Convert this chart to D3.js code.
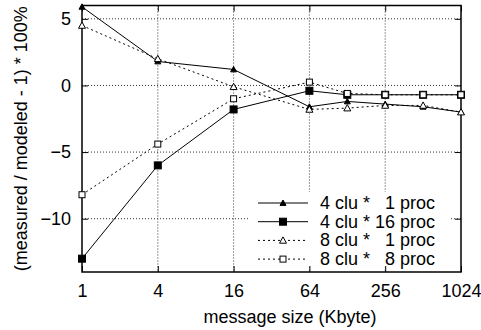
<!DOCTYPE html>
<html lang="en">
<head>
  <meta charset="UTF-8">
  <title>measured / modeled</title>
  <script src="https://d3js.org/d3.v7.min.js"></script>
  <style>
    body { margin: 0; background: #fff; }
    svg text { font-family: "Liberation Sans", Arial, Helvetica, sans-serif; }
  </style>
</head>
<body>
  <svg width="481" height="330" id="chart"></svg>
  <script>
    // message size in Kbyte (x values)
    var sizes = [1, 4, 16, 64, 128, 256, 512, 1024]
    var xTicks = [1, 4, 16, 64, 256, 1024]
    var yTicks = [-10, -5, 0, 5]

    // (measured / modeled - 1) * 100%
    var clu4proc1 = [5.9, 1.8, 1.2, -1.6, -1.2, -1.4, -1.6, -2.0]
    var clu4proc16 = [-13.0, -6.0, -1.8, -0.4, -0.7, -0.7, -0.7, -0.7]
    var clu8proc1 = [4.5, 2.0, -0.1, -1.8, -1.7, -1.5, -1.5, -2.0]
    var clu8proc8 = [-8.2, -4.4, -1.0, 0.25, -0.6, -0.7, -0.7, -0.7]

    var seriesNames = ["4 clu *   1 proc", "4 clu * 16 proc", "8 clu *   1 proc", "8 clu *   8 proc"]

    var series = [
      { name: seriesNames[0], values: clu4proc1, dash: null, marker: "triangle", fill: "#000" },
      { name: seriesNames[1], values: clu4proc16, dash: null, marker: "square", fill: "#000" },
      { name: seriesNames[2], values: clu8proc1, dash: "2,3", marker: "triangle", fill: "#fff" },
      { name: seriesNames[3], values: clu8proc8, dash: "2,3", marker: "square", fill: "#fff" }
    ]

    var svg = d3.select("#chart")
    var plotLeft = 82, plotRight = 461, plotTop = 5.5, plotBottom = 272
    var fontSize = "18px"

    var x = d3.scaleLog().base(2).domain([1, 1024]).range([plotLeft, plotRight])
    var y = d3.scaleLinear().domain([-14, 6]).range([plotBottom, plotTop])

    // grid
    var grid = svg.append("g")
    grid.selectAll("line.h")
      .data(yTicks)
      .enter()
      .append("line")
      .attr("x1", plotLeft).attr("x2", plotRight)
      .attr("y1", function (d) { return y(d) }).attr("y2", function (d) { return y(d) })
      .style("stroke", "#333").style("stroke-width", 1).style("stroke-dasharray", "1,2")

    grid.selectAll("line.v")
      .data([4, 16, 64, 256])
      .enter()
      .append("line")
      .attr("x1", function (d) { return x(d) }).attr("x2", function (d) { return x(d) })
      .attr("y1", plotTop).attr("y2", plotBottom)
      .style("stroke", "#333").style("stroke-width", 1).style("stroke-dasharray", "1,2")

    // key background hides the grid
    var keyX = 248, keyY = 192
    svg.append("rect")
      .attr("x", keyX).attr("y", keyY)
      .attr("width", 201).attr("height", 75)
      .style("fill", "#fff")

    // axes with inward ticks, mirrored on top and right
    svg.append("g")
      .attr("transform", "translate(0," + plotBottom + ")")
      .call(d3.axisBottom(x).tickValues(xTicks).tickFormat(d3.format("d")).tickSizeInner(-6).tickSizeOuter(0).tickPadding(12))
    svg.append("g")
      .attr("transform", "translate(0," + plotTop + ")")
      .call(d3.axisTop(x).tickValues(xTicks).tickFormat("").tickSizeInner(-6).tickSizeOuter(0))
    svg.append("g")
      .attr("transform", "translate(" + plotLeft + ",0)")
      .call(d3.axisLeft(y).tickValues(yTicks).tickFormat(d3.format("d")).tickSizeInner(-6).tickSizeOuter(0).tickPadding(11))
    svg.append("g")
      .attr("transform", "translate(" + plotRight + ",0)")
      .call(d3.axisRight(y).tickValues(yTicks).tickFormat("").tickSizeInner(-6).tickSizeOuter(0))

    svg.selectAll(".domain").remove()
    svg.selectAll(".tick line").style("stroke", "#000")
    svg.selectAll(".tick text").style("font-size", fontSize).style("fill", "#000")
      .style("font-family", "'Liberation Sans', Arial, sans-serif")

    svg.append("rect")
      .attr("x", plotLeft).attr("y", plotTop)
      .attr("width", plotRight - plotLeft).attr("height", plotBottom - plotTop)
      .style("fill", "none").style("stroke", "#000").style("stroke-width", 1.5)

    // axis titles
    svg.append("text")
      .attr("x", 290)
      .attr("y", 323)
      .attr("text-anchor", "middle")
      .style("font-size", fontSize)
      .text("message size (Kbyte)")

    svg.append("text")
      .attr("text-anchor", "middle")
      .attr("transform", "translate(27," + ((plotTop + plotBottom) / 2) + ")rotate(-90)")
      .style("font-size", fontSize)
      .text("(measured / modeled - 1) * 100%")

    function drawMarker(g, kind, cx, cy, fill) {
      if (kind == "triangle") {
        var s = fill == "#000" ? 3 : 3.5
        g.append("path")
          .attr("d", "M" + cx + "," + (cy - s) + "L" + (cx + s) + "," + (cy + s * 0.8) + "L" + (cx - s) + "," + (cy + s * 0.8) + "Z")
          .style("fill", fill).style("stroke", "#000").style("stroke-width", 1)
      } else {
        var h = fill == "#000" ? 3.5 : 3
        g.append("rect")
          .attr("x", cx - h).attr("y", cy - h)
          .attr("width", h * 2).attr("height", h * 2)
          .style("fill", fill).style("stroke", "#000").style("stroke-width", 1)
      }
    }

    var line = d3.line()
      .x(function (d) { return x(d[0]) })
      .y(function (d) { return y(d[1]) })

    series.forEach(function (s, k) {
      var pts = sizes.map(function (v, i) { return [v, s.values[i]] })
      var g = svg.append("g")
      g.append("path")
        .datum(pts)
        .attr("d", line)
        .style("fill", "none")
        .style("stroke", "#000")
        .style("stroke-width", 1)
        .style("stroke-dasharray", s.dash)
      pts.forEach(function (p) { drawMarker(g, s.marker, x(p[0]), y(p[1]), s.fill) })

      // key entry
      var ky = 203 + k * 18.7
      var kg = svg.append("g")
      kg.append("line")
        .attr("x1", 258).attr("x2", 308)
        .attr("y1", ky).attr("y2", ky)
        .style("stroke", "#000").style("stroke-width", 1)
        .style("stroke-dasharray", s.dash)
      drawMarker(kg, s.marker, 283, ky, s.fill)
      kg.append("text")
        .attr("x", 435).attr("y", ky + 6)
        .attr("text-anchor", "end")
        .style("font-size", fontSize)
        .style("white-space", "pre")
        .text(s.name)
    })
  </script>
</body>
</html>
